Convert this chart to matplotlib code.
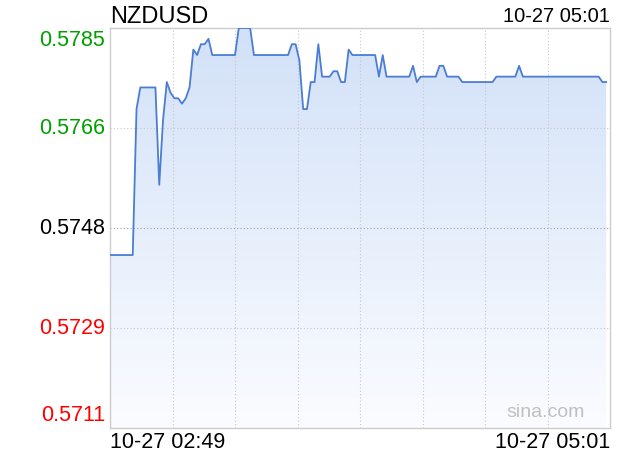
import numpy as np
import matplotlib
matplotlib.use("Agg")
import matplotlib.pyplot as plt
from matplotlib.colors import LinearSegmentedColormap

plt.rcParams['font.family'] = ['Liberation Sans', 'DejaVu Sans']

symbol = "NZDUSD"
start_label = "10-27 02:49"
end_label = "10-27 05:01"
prev_close = 0.5748
y_ticks = [0.5711, 0.5729, 0.5748, 0.5766, 0.5785]
y_tick_labels = ["0.5711", "0.5729", "0.5748", "0.5766", "0.5785"]

# one price per minute from 02:49
prices = ([0.5743] * 7 + [0.5770] + [0.5774] * 5 + [0.5756, 0.5768, 0.5775, 0.5773,
          0.5772, 0.5772, 0.5771, 0.5772, 0.5774, 0.5781, 0.5780, 0.5782, 0.5782, 0.5783]
          + [0.5780] * 7 + [0.5785] * 4 + [0.5780] * 10
          + [0.5782, 0.5782, 0.5779, 0.5770, 0.5770, 0.5775, 0.5775, 0.5782,
             0.5776, 0.5776, 0.5776, 0.5777, 0.5777, 0.5775, 0.5775, 0.5781]
          + [0.5780] * 7 + [0.5776, 0.5780] + [0.5776] * 7 + [0.5778, 0.5775]
          + [0.5776] * 5 + [0.5778, 0.5778] + [0.5776] * 4 + [0.5775] * 9
          + [0.5776] * 6 + [0.5778] + [0.5776] * 21 + [0.5775, 0.5775])
total_minutes = 132

minutes = np.arange(len(prices))
ymin, ymax = 0.5711, 0.5785

fig = plt.figure(figsize=(6.2, 4.6), dpi=100)
ax = fig.add_axes([110 / 620, 31 / 460, 500 / 620, 400 / 460])
ax.set_xlim(0, total_minutes)
ax.set_ylim(ymin, ymax)

# gradient fill under the line
cmap = LinearSegmentedColormap.from_list("fill", ["#fbfcff", "#d2e1f8"])
grad = np.linspace(0, 1, 256).reshape(-1, 1)
im = ax.imshow(grad, cmap=cmap, origin="lower", aspect="auto",
               extent=[0, total_minutes, ymin, ymax], zorder=1)
poly = ax.fill_between(minutes, prices, ymin, color="none", zorder=1)
im.set_clip_path(poly.get_paths()[0], transform=ax.transData)

ax.plot(minutes, prices, color="#4a7dd3", lw=1.3, zorder=3)

# grid
for i in range(1, 8):
    ax.axvline(total_minutes * i / 8, color="#c8c8c8", lw=0.8, ls=(0, (1, 2)), zorder=2)
for v in [0.57295, 0.57665]:
    ax.axhline(v, color="#c8c8c8", lw=0.8, ls=(0, (1, 2)), zorder=2)
ax.axhline(prev_close, color="#a0a0a0", lw=0.8, ls=(0, (1, 2)), zorder=2)

for s in ax.spines.values():
    s.set_color("#cccccc")
    s.set_linewidth(1.0)
ax.set_xticks([])
ax.set_yticks([])

# y labels
colors = ["#ff0000", "#ff0000", "#000000", "#00a000", "#00a000"]
ypos = [0.034, 0.25, 0.5, 0.75, 0.9725]
for lab, c, yp in zip(y_tick_labels, colors, ypos):
    ax.text(-0.01, yp, lab, transform=ax.transAxes, ha="right", va="center",
            color=c, fontsize=15.5)

fig.text(110 / 620, 1 - 17 / 460, symbol, ha="left", va="center", fontsize=17)
fig.text(610 / 620, 1 - 17 / 460, end_label, ha="right", va="center", fontsize=14.5)
fig.text(110 / 620, 1 - 443 / 460, start_label, ha="left", va="center", fontsize=15.5)
fig.text(610 / 620, 1 - 443 / 460, end_label, ha="right", va="center", fontsize=15.5)
ax.text(0.872, 0.04, "sina.com", transform=ax.transAxes, ha="center", va="center",
        color="#c0c0c0", fontsize=14, zorder=4)

plt.savefig("out.png", dpi=100)
